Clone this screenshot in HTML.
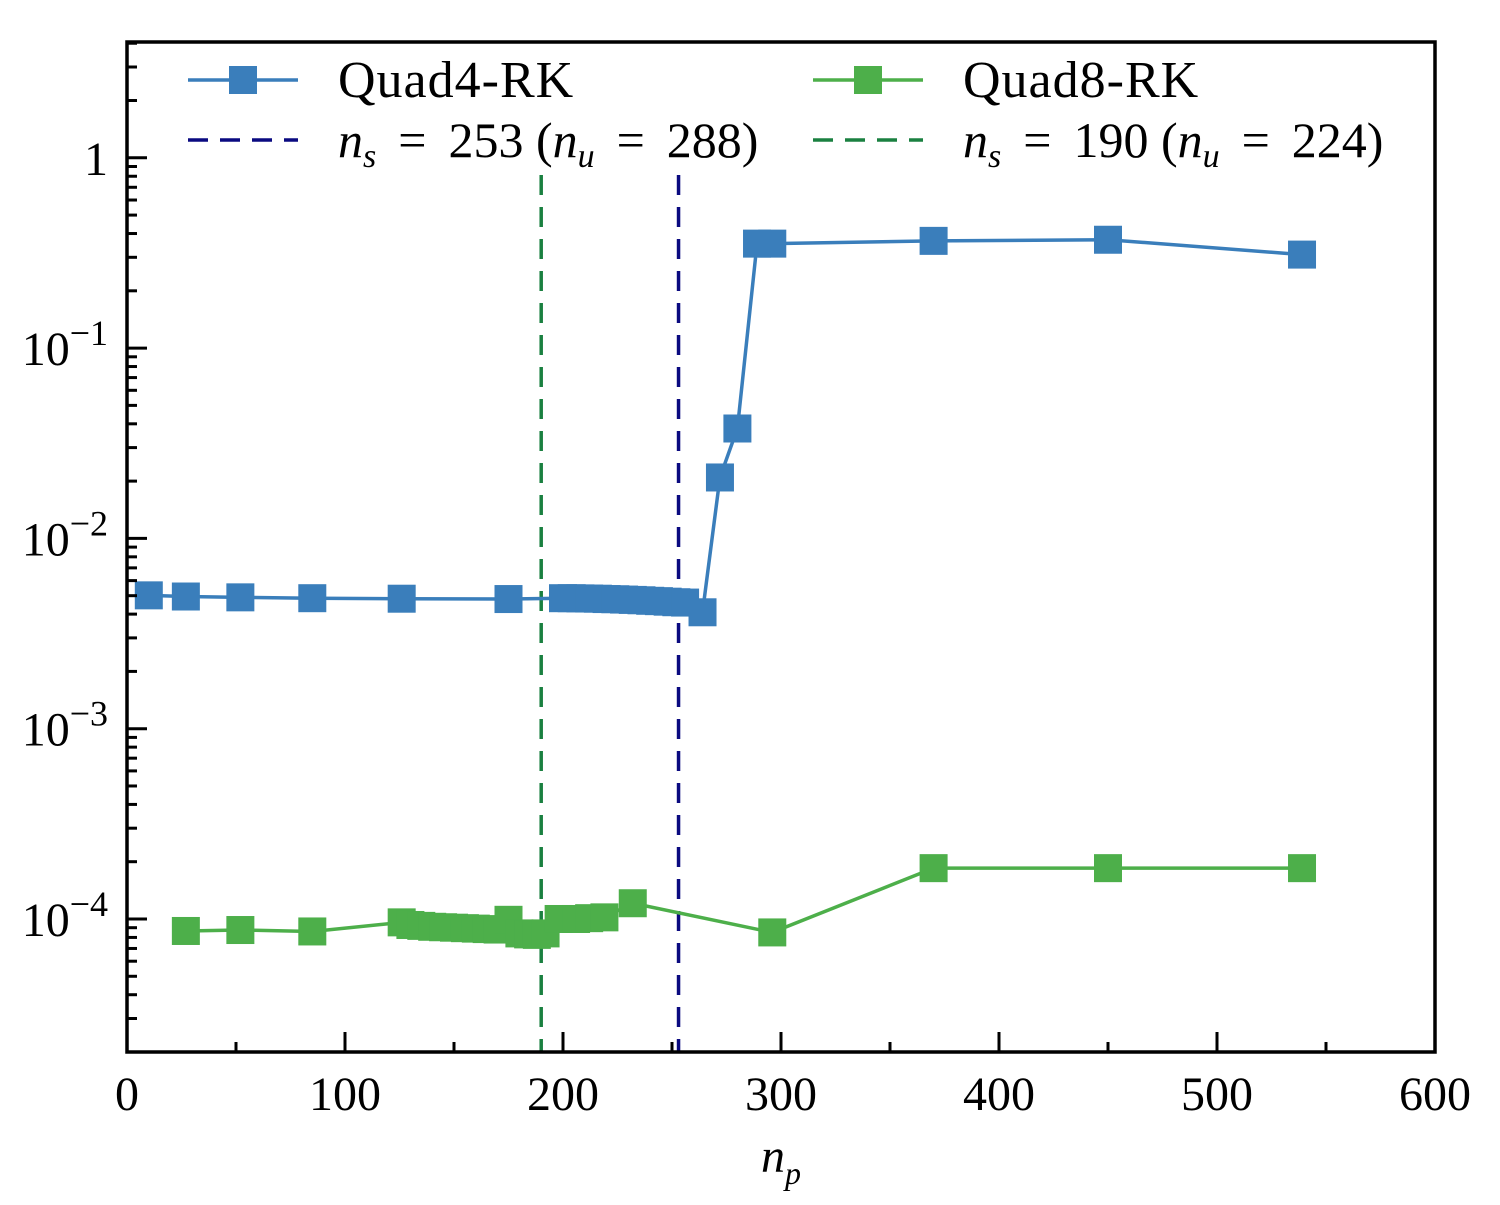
<!DOCTYPE html>
<html><head><meta charset="utf-8"><style>
body{margin:0;background:#fff;}
svg text{font-family:"Liberation Serif",serif;fill:#000;}
</style></head><body>
<svg id="chart" width="1500" height="1200" xmlns="http://www.w3.org/2000/svg">
<g id="marks"></g>
<g id="axes"></g>
<g id="legend">
  <line x1="188" y1="80" x2="298" y2="80" stroke="#3a7ebb" stroke-width="3.5"/>
  <rect x="229" y="66" width="28" height="28" fill="#3a7ebb"/>
  <text x="338" y="97" font-size="52" letter-spacing="1">Quad4-RK</text>
  <line x1="813" y1="80" x2="923" y2="80" stroke="#4daf4a" stroke-width="3.5"/>
  <rect x="854" y="66" width="28" height="28" fill="#4daf4a"/>
  <text x="963" y="97" font-size="52" letter-spacing="1">Quad8-RK</text>
  <line x1="188" y1="140" x2="298" y2="140" stroke="#0a0a80" stroke-width="3.5" stroke-dasharray="20,12"/>
  <text x="338" y="157" font-size="50"><tspan font-style="italic">n</tspan><tspan font-size="34" font-style="italic" dy="10">s</tspan><tspan dy="-10" dx="22">=</tspan><tspan dx="22">253 (</tspan><tspan font-style="italic">n</tspan><tspan font-size="34" font-style="italic" dy="10">u</tspan><tspan dy="-10" dx="22">=</tspan><tspan dx="22">288)</tspan></text>
  <line x1="813" y1="140" x2="923" y2="140" stroke="#1a8040" stroke-width="3.5" stroke-dasharray="20,12"/>
  <text x="963" y="157" font-size="50"><tspan font-style="italic">n</tspan><tspan font-size="34" font-style="italic" dy="10">s</tspan><tspan dy="-10" dx="22">=</tspan><tspan dx="22">190 (</tspan><tspan font-style="italic">n</tspan><tspan font-size="34" font-style="italic" dy="10">u</tspan><tspan dy="-10" dx="22">=</tspan><tspan dx="22">224)</tspan></text>
</g>
</svg>
<script>
const quad4X=[10,27,52,85,126,175,200,204,208,212,216,220,224,228,232,236,240,244,248,252,256,264,272,280,289,296,370,450,539];
const quad4Y=[5.02e-3,4.95e-3,4.9e-3,4.85e-3,4.82e-3,4.8e-3,4.85e-3,4.85e-3,4.84e-3,4.83e-3,4.82e-3,4.8e-3,4.79e-3,4.77e-3,4.75e-3,4.73e-3,4.7e-3,4.68e-3,4.65e-3,4.62e-3,4.6e-3,4.09e-3,0.0209,0.0378,0.354,0.354,0.366,0.371,0.31];
const quad8X=[27,52,85,126,130,135,140,145,150,155,160,165,170,175,180,184,188,192,198,206,212,219,232,296,370,450,539];
const quad8Y=[8.65e-5,8.75e-5,8.6e-5,9.6e-5,9.3e-5,9.2e-5,9.1e-5,9.05e-5,9e-5,8.95e-5,8.9e-5,8.85e-5,8.8e-5,9.9e-5,8.4e-5,8.3e-5,8.25e-5,8.4e-5,1e-4,1e-4,1.01e-4,1.02e-4,1.21e-4,8.5e-5,1.85e-4,1.85e-4,1.85e-4];
const vlineX=[190,253];
const vlineColors=['#1a8040','#0a0a80'];
const xTicks=[0,100,200,300,400,500,600];
const yTickExp=[0,-1,-2,-3,-4];

const L=127,R=1435,T=42,B=1052,XMIN=0,XMAX=600,LMIN=Math.log10(2e-5),LMAX=Math.log10(4.06);
const sx=v=>L+(v-XMIN)/(XMAX-XMIN)*(R-L);
const sy=v=>B-(Math.log10(v)-LMIN)/(LMAX-LMIN)*(B-T);
const NS='http://www.w3.org/2000/svg';
const marks=document.getElementById('marks'),axes=document.getElementById('axes');
function mk(tag,attrs,parent){const e=document.createElementNS(NS,tag);for(const k in attrs)e.setAttribute(k,attrs[k]);parent.appendChild(e);return e;}

vlineX.forEach((v,i)=>{
  const l=mk('line',{x1:sx(v),x2:sx(v),y1:175,y2:B,stroke:vlineColors[i],'stroke-width':3.5,'stroke-dasharray':'20,12'},marks);
  
  
});
function series(xs,ys,color,name){
  const g=mk('g',{},marks);
  
  
  const p=mk('polyline',{points:xs.map((x,i)=>sx(x)+','+sy(ys[i])).join(' '),fill:'none',stroke:color,'stroke-width':3.5},g);
  
  
  xs.forEach((x,i)=>{
    const r=mk('rect',{x:sx(x)-14,y:sy(ys[i])-14,width:28,height:28,fill:color},g);
    
    
  });
}
series(quad4X,quad4Y,'#3a7ebb','quad4');
series(quad8X,quad8Y,'#4daf4a','quad8');

const frame=mk('rect',{x:L,y:T,width:R-L,height:B-T,fill:'none',stroke:'#000','stroke-width':3.5},axes);


for(let v=0;v<=600;v+=50){
  const major=v%100===0;
  mk('line',{x1:sx(v),x2:sx(v),y1:B,y2:B-(major?20:10),stroke:'#000','stroke-width':3},axes);
}
xTicks.forEach(v=>{
  const t=mk('text',{x:sx(v),y:B+58,'font-size':48,'text-anchor':'middle'},axes);
  t.textContent=v;
  
  
});
for(let e=-5;e<=0;e++){
  for(let m=1;m<10;m++){
    const v=m*Math.pow(10,e);const y=sy(v);
    if(y<T||y>B)continue;
    mk('line',{x1:L,x2:L+(m===1?20:10),y1:y,y2:y,stroke:'#000','stroke-width':3},axes);
  }
}
yTickExp.forEach(e=>{
  const y=sy(Math.pow(10,e));
  const t=mk('text',{x:108,y:y+17,'font-size':48,'text-anchor':'end'},axes);
  
  
  if(e===0){t.textContent='1';}
  else{
    const a=mk('tspan',{},t);a.textContent='10';
    const b=mk('tspan',{'font-size':36,dy:-20},t);b.textContent='\u2212'+(-e);
  }
});
const xl=mk('text',{x:781,y:1172,'font-size':48,'text-anchor':'middle'},axes);


const a1=mk('tspan',{'font-style':'italic'},xl);a1.textContent='n';
const a2=mk('tspan',{'font-style':'italic','font-size':32,dy:12},xl);a2.textContent='p';
</script>
</body></html>
